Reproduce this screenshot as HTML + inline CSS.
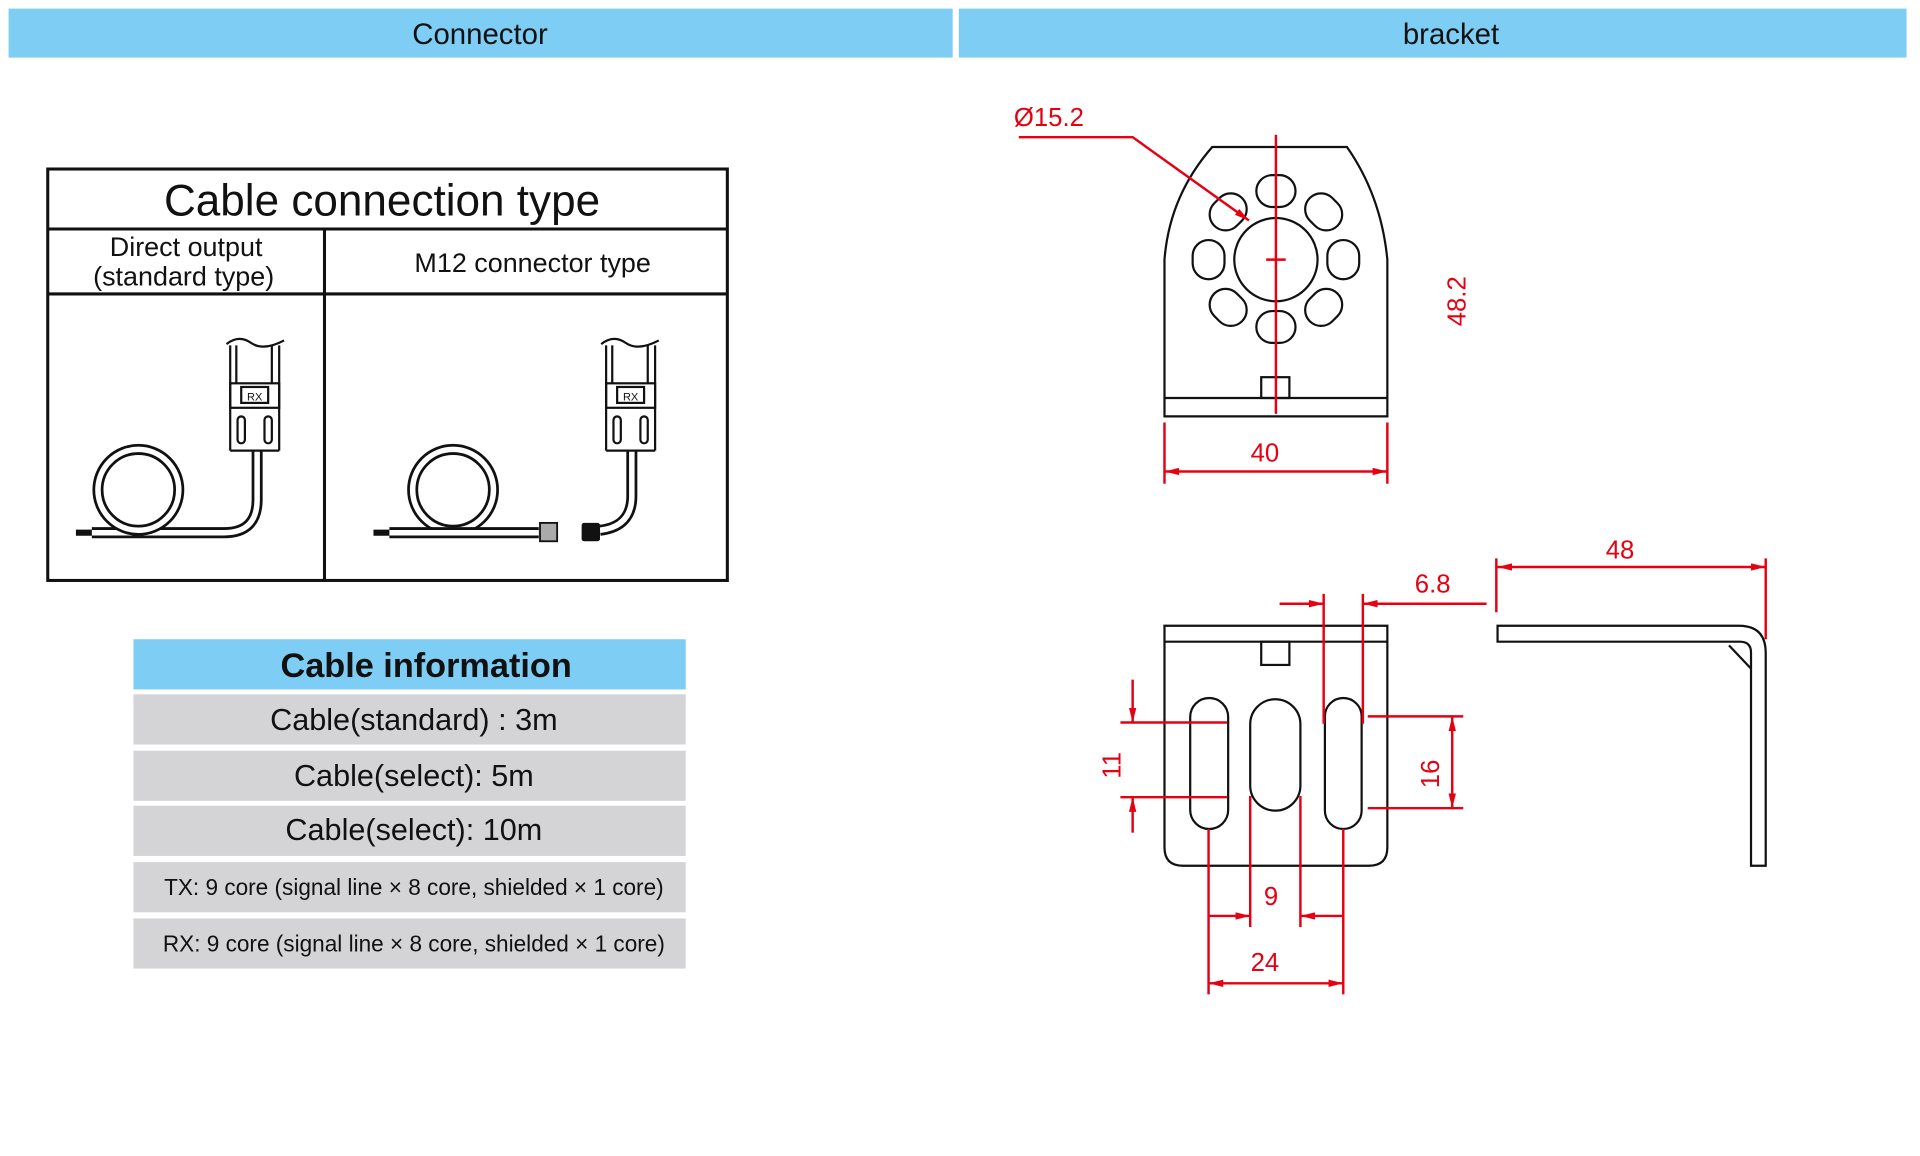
<!DOCTYPE html>
<html><head><meta charset="utf-8"><style>
html,body{margin:0;padding:0;background:#fff}
svg{display:block}
text{font-family:"Liberation Sans",sans-serif}
</style></head><body>
<svg width="1920" height="1156" viewBox="0 0 1568 944" xmlns="http://www.w3.org/2000/svg">
<defs>
<marker id="a" viewBox="0 0 12 6" refX="12" refY="3" markerWidth="12" markerHeight="6" orient="auto-start-reverse" markerUnits="userSpaceOnUse"><path d="M0,0 L12,3 L0,6 z" fill="#e60012"/></marker>
</defs>
<rect x="7" y="7" width="771" height="40" fill="#7dcdf4"/>
<rect x="783" y="7" width="774" height="40" fill="#7dcdf4"/>
<text x="392" y="36" font-size="24" text-anchor="middle" fill="#111">Connector</text>
<text x="1185" y="36" font-size="24" text-anchor="middle" fill="#111">bracket</text>

<!-- Cable connection table -->
<g stroke="#111" stroke-width="2.5" fill="none">
<rect x="39" y="138" width="555" height="336"/>
<line x1="39" y1="187" x2="594" y2="187"/>
<line x1="39" y1="240" x2="594" y2="240"/>
<line x1="265" y1="187" x2="265" y2="474"/>
</g>
<text x="312" y="176" font-size="36" text-anchor="middle" fill="#111">Cable connection type</text>
<text x="152" y="209" font-size="22" text-anchor="middle" fill="#111">Direct output</text>
<text x="150" y="233" font-size="22" text-anchor="middle" fill="#111">(standard type)</text>
<text x="435" y="222" font-size="22" text-anchor="middle" fill="#111">M12 connector type</text>

<!-- left sensor -->
<g fill="none" stroke="#111">
<path d="M210,368 L210,408 Q210,435 183,435 L75,435" stroke-width="9"/>
<path d="M210,368 L210,408 Q210,435 183,435 L75,435" stroke="#fff" stroke-width="4.5"/>
<circle cx="113" cy="400" r="33" stroke-width="9"/>
<circle cx="113" cy="400" r="33" stroke="#fff" stroke-width="4.5"/>
<path d="M62,435 L75,435" stroke-width="5"/>
<g stroke-width="1.8"><path d="M185,281 Q195,273 205,280 T232,278"/><line x1="188" y1="282" x2="188" y2="368"/><line x1="228" y1="282" x2="228" y2="368"/><line x1="193" y1="282" x2="193" y2="313"/><line x1="222" y1="282" x2="222" y2="313"/><rect x="188" y="313" width="40" height="20"/><rect x="197" y="316" width="22" height="13"/><line x1="188" y1="368" x2="228" y2="368"/><rect x="194" y="340" width="6" height="22" rx="3"/><rect x="216" y="340" width="6" height="22" rx="3"/></g>
</g>
<text x="208" y="327" font-size="9" text-anchor="middle" fill="#111">RX</text>

<!-- right sensor -->
<g fill="none" stroke="#111">
<path d="M516,368 L516,405 Q516,430 490,433" stroke-width="9"/>
<path d="M516,368 L516,405 Q516,430 490,433" stroke="#fff" stroke-width="4.5"/>
<circle cx="370" cy="400" r="33" stroke-width="9"/>
<circle cx="370" cy="400" r="33" stroke="#fff" stroke-width="4.5"/>
<path d="M318,435 L440,435" stroke-width="9"/>
<path d="M318,435 L440,435" stroke="#fff" stroke-width="4.5"/>
<path d="M305,435 L318,435" stroke-width="5"/>
<g stroke-width="1.8"><path d="M491,281 Q501,273 511,280 T538,278"/><line x1="495" y1="282" x2="495" y2="368"/><line x1="535" y1="282" x2="535" y2="368"/><line x1="500" y1="282" x2="500" y2="313"/><line x1="529" y1="282" x2="529" y2="313"/><rect x="495" y="313" width="40" height="20"/><rect x="504" y="316" width="22" height="13"/><line x1="495" y1="368" x2="535" y2="368"/><rect x="501" y="340" width="6" height="22" rx="3"/><rect x="523" y="340" width="6" height="22" rx="3"/></g>
</g>
<rect x="441" y="427" width="14" height="15" fill="#aaa" stroke="#111" stroke-width="1.5"/>
<rect x="475" y="427" width="15" height="15" rx="2" fill="#111"/>
<text x="515" y="327" font-size="9" text-anchor="middle" fill="#111">RX</text>

<!-- Cable information -->
<rect x="109" y="522" width="451" height="41" fill="#7dcdf4"/>
<text x="348" y="553" font-size="28" font-weight="bold" text-anchor="middle" fill="#111">Cable information</text>
<g fill="#d4d4d6">
<rect x="109" y="567" width="451" height="41"/>
<rect x="109" y="613" width="451" height="41"/>
<rect x="109" y="658" width="451" height="41"/>
<rect x="109" y="704" width="451" height="41"/>
<rect x="109" y="750" width="451" height="41"/>
</g>
<g fill="#111" text-anchor="middle">
<text x="338" y="596" font-size="25">Cable(standard) : 3m</text>
<text x="338" y="642" font-size="25">Cable(select): 5m</text>
<text x="338" y="686" font-size="25">Cable(select): 10m</text>
<text x="338" y="731" font-size="19" textLength="408" lengthAdjust="spacingAndGlyphs">TX: 9 core (signal line × 8 core, shielded × 1 core)</text>
<text x="338" y="777" font-size="19" textLength="410" lengthAdjust="spacingAndGlyphs">RX: 9 core (signal line × 8 core, shielded × 1 core)</text>
</g>

<!-- bracket top view -->
<g fill="none" stroke="#111" stroke-width="1.8">
<path d="M951,340 L951,212 Q955,160 990,120 L1100,120 Q1128,160 1133,212 L1133,340 Z"/>
<line x1="951" y1="325" x2="1133" y2="325"/>
<rect x="1030" y="308" width="23" height="17"/>
<circle cx="1042" cy="212" r="34"/>
<rect x="1026" y="143" width="32" height="26" rx="13"/>
<rect x="1026" y="254" width="32" height="26" rx="13"/>
<rect x="974" y="196" width="26" height="32" rx="13"/>
<rect x="1084" y="196" width="26" height="32" rx="13"/>
<g transform="rotate(-45 1003 173)"><rect x="987" y="160" width="32" height="26" rx="13"/></g>
<g transform="rotate(45 1081 173)"><rect x="1065" y="160" width="32" height="26" rx="13"/></g>
<g transform="rotate(45 1003 251)"><rect x="987" y="238" width="32" height="26" rx="13"/></g>
<g transform="rotate(-45 1081 251)"><rect x="1065" y="238" width="32" height="26" rx="13"/></g>
</g>
<g stroke="#e60012" stroke-width="2" fill="none">
<line x1="1042" y1="110" x2="1042" y2="338"/>
<line x1="1034" y1="212" x2="1050" y2="212"/>
<path d="M832,112 L925,112 L1020,180" marker-end="url(#a)"/>
<line x1="951" y1="345" x2="951" y2="395"/>
<line x1="1133" y1="345" x2="1133" y2="395"/>
<line x1="951" y1="385" x2="1133" y2="385" marker-start="url(#a)" marker-end="url(#a)"/>
</g>
<g fill="#e60012" font-size="21">
<text x="828" y="103">Ø15.2</text>
<text x="1033" y="377" text-anchor="middle">40</text>
<text transform="translate(1197,246) rotate(-90)" text-anchor="middle">48.2</text>
</g>

<!-- bracket front view -->
<g fill="none" stroke="#111" stroke-width="1.8">
<path d="M951,511 L1133,511 L1133,692 Q1133,707 1118,707 L966,707 Q951,707 951,692 Z"/>
<line x1="951" y1="524" x2="1133" y2="524"/>
<rect x="1030" y="524" width="23" height="19"/>
<rect x="972" y="570" width="31" height="107" rx="15.5"/>
<rect x="1021" y="571" width="41" height="91" rx="20.5"/>
<rect x="1082" y="570" width="30" height="107" rx="15"/>
<!-- side -->
<path d="M1223,511 L1420,511 Q1442,511 1442,533 L1442,707 L1430,707 L1430,533 Q1430,524 1421,524 L1223,524 Z"/>
<line x1="1412" y1="527" x2="1430" y2="546"/>
</g>
<g stroke="#e60012" stroke-width="2" fill="none">
<line x1="1081" y1="485" x2="1081" y2="591"/>
<line x1="1113" y1="485" x2="1113" y2="591"/>
<line x1="1045" y1="493" x2="1081" y2="493" marker-end="url(#a)"/>
<line x1="1214" y1="493" x2="1113" y2="493" marker-end="url(#a)"/>
<line x1="1222" y1="456" x2="1222" y2="500"/>
<line x1="1442" y1="456" x2="1442" y2="522"/>
<line x1="1223" y1="463" x2="1442" y2="463" marker-start="url(#a)" marker-end="url(#a)"/>
<line x1="915" y1="590" x2="1002" y2="590"/>
<line x1="915" y1="651" x2="1002" y2="651"/>
<line x1="925" y1="555" x2="925" y2="590" marker-end="url(#a)"/>
<line x1="925" y1="680" x2="925" y2="651" marker-end="url(#a)"/>
<line x1="1117" y1="585" x2="1195" y2="585"/>
<line x1="1117" y1="660" x2="1195" y2="660"/>
<line x1="1186" y1="585" x2="1186" y2="660" marker-start="url(#a)" marker-end="url(#a)"/>
<line x1="1021" y1="650" x2="1021" y2="757"/>
<line x1="1062" y1="650" x2="1062" y2="757"/>
<line x1="987" y1="748" x2="1021" y2="748" marker-end="url(#a)"/>
<line x1="1098" y1="748" x2="1062" y2="748" marker-end="url(#a)"/>
<line x1="987" y1="677" x2="987" y2="812"/>
<line x1="1097" y1="677" x2="1097" y2="812"/>
<line x1="987" y1="803" x2="1097" y2="803" marker-start="url(#a)" marker-end="url(#a)"/>
</g>
<g fill="#e60012" font-size="21">
<text x="1170" y="484" text-anchor="middle">6.8</text>
<text x="1323" y="456" text-anchor="middle">48</text>
<text x="1038" y="739" text-anchor="middle">9</text>
<text x="1033" y="793" text-anchor="middle">24</text>
<text transform="translate(915,625) rotate(-90)" text-anchor="middle">11</text>
<text transform="translate(1175,632) rotate(-90)" text-anchor="middle">16</text>
</g>
</svg>
</body></html>
